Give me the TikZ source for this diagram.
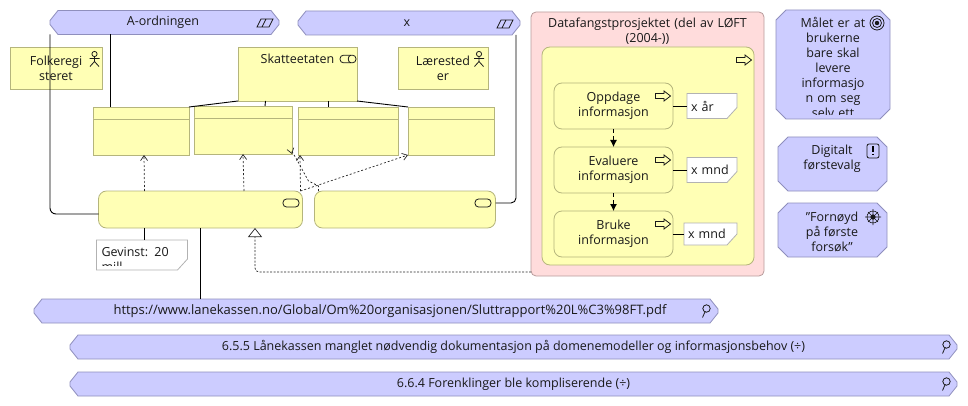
\documentclass[tikz,border=0pt]{standalone}
\usepackage{fontspec}
\setmainfont{Open Sans}
\usetikzlibrary{arrows.meta,positioning}
\newcommand{\cutbox}[3]{\draw [cutstyle] ([xshift=#2pt]#1.north west) -- ([xshift=-#2pt]#1.north east) -- ([yshift=-#3pt]#1.north east) -- ([yshift=#3pt]#1.south east) -- ([xshift=-#2pt]#1.south east) -- ([xshift=#2pt]#1.south west) -- ([yshift=#3pt]#1.south west) -- ([yshift=-#3pt]#1.north west) -- cycle;}
\newcommand{\memobox}[1]{\draw [memostyle] (#1.north west) -- (#1.north east) -- ([yshift=11pt]#1.south east) -- ([xshift=-10pt]#1.south east) -- (#1.south west) -- cycle;}

\begin{document}
\begin{tikzpicture}[
      x=1pt, y=-1pt,
      base/.style={outer sep=0pt, inner sep=2pt, align=center, line width=0.8pt, text=black!90, font=\fontsize{12.5}{15}\selectfont},
      bizbox/.style={base, rectangle, draw=yellowline, fill=yellowfill},
      tablebox/.style={bizbox, minimum height=48pt},
      roundbox/.style={bizbox, rounded corners=8pt},
      motivation/.style={base, rectangle},
      banner/.style={motivation, minimum height=24pt},
      memo/.style={base, rectangle},
      cutstyle/.style={line width=0.8pt, draw=blueline, fill=bluefill},
      memostyle/.style={line width=0.8pt, draw=black!30, fill=white},
      plain/.style={base, inner sep=0pt},
      memotext/.style={plain, align=left},
      link/.style={line width=0.9pt, draw=black},
      trigger/.style={-{Straight Barb[length=5pt,width=7pt]}, line width=0.7pt, draw=black!85, dash pattern=on 2pt off 2pt},
      flow/.style={-{Latex[length=7pt,width=7pt]}, line width=0.8pt, draw=black, dash pattern=on 4pt off 3pt},
      realize/.style={-{Triangle[open, length=9pt, width=14pt]}, line width=0.7pt, draw=black!85, dash pattern=on 2pt off 1.5pt},
      icon/.style={line width=0.8pt, draw=black!90},
      pics/actor/.style={code={
        \draw [icon] (0,-5) circle (2.6) (0,-2.4) -- (0,2.5) (-5,-0.5) -- (5,-0.5) (-4.5,7.5) -- (0,2.5) -- (4.5,7.5);}},
      pics/serve/.style={code={
        \draw [icon, rounded corners=3.5pt] (-8,-4) rectangle (8,4);}},
      pics/collab/.style={code={
        \draw [icon, rounded corners=3.5pt] (-8,-3.8) rectangle (8,3.8);
        \draw [icon] (3,-3.8) arc (-90:-270:2.8 and 3.8);}},
      pics/plateau/.style={code={
        \draw [icon] (-8,4) -- (-4,-4) -- (8,-4) -- (4,4) -- cycle (-3,4) -- (1,-4);}},
      pics/process/.style={code={
        \draw [icon] (-7.5,-2.5) -- (1,-2.5) -- (1,-5) -- (7.5,0) -- (1,5) -- (1,2.5) -- (-7.5,2.5) -- cycle;}},
      pics/lens/.style={code={
        \draw [icon] (1.5,-2.5) circle (3.7) (0,0.8) -- (-2.5,6.5);}},
      pics/target/.style={code={
        \draw [icon] (0,0) circle (7) (0,0) circle (4.5);
        \fill [black!90] (0,0) circle (2.2);}},
      pics/principle/.style={code={
        \draw [icon, rounded corners=2pt] (-6,-7) rectangle (6,7);
        \draw [line width=1.6pt] (0,-4.5) -- (0,1.2) (0,3) -- (0,4.5);}},
      pics/wheel/.style={code={
        \draw [icon, line width=0.6pt] (0,0) circle (6) (-8,0) -- (8,0) (0,-8) -- (0,8) (-5,-5) -- (5,5) (-5,5) -- (5,-5);
        \fill [black!90] (0,0) circle (2.6);}}
  ]
  \definecolor{yellowfill}{HTML}{FFFFB5}
  \definecolor{yellowline}{HTML}{B5B57C}
  \definecolor{bluefill}{HTML}{CCCCFF}
  \definecolor{blueline}{HTML}{8F8FBD}
  \definecolor{pinkfill}{HTML}{FFDCDC}
  \definecolor{pinkline}{HTML}{B89C9C}
  \useasboundingbox (0,0) rectangle (968,406);

  % Nodes
  \node (ordningen) [banner, minimum width=229pt] at (164.5,22.5) {};
  \cutbox{ordningen}{8}{10}
  \node (ordningenText) [plain] at (163,22.5) {A-ordningen};
  \node (xplateau) [banner, minimum width=222pt] at (409,23) {};
  \cutbox{xplateau}{8}{10}
  \node (xplateauText) [plain] at (407,23.5) {x};

  \node (folkereg) [bizbox, minimum width=92pt, minimum height=42pt] at (56,68) {Folkeregi\\steret};
  \node (skatt) [bizbox, minimum width=119pt, minimum height=54pt] at (297.5,74) {Skatteetaten\\~\\~};
  \node (laerested) [bizbox, minimum width=90pt, minimum height=42pt] at (443,68) {Lærested\\er};

  \node (tableA) [tablebox, minimum width=96pt] at (141,131) {};
  \node (tableB) [tablebox, minimum width=98pt, right=5pt of tableA, yshift=1pt] {};
  \node (tableC) [tablebox, minimum width=100pt, right=6pt of tableB, yshift=-1pt] {};
  \node (tableD) [tablebox, minimum width=86pt, right=10pt of tableC] {};

  \node (mainproc) [roundbox, minimum width=204pt, minimum height=37pt] at (200.5,209.5) {};
  \node (secondproc) [roundbox, minimum width=181pt, minimum height=37pt, right=12pt of mainproc] {};
  \node (gevinst) [memo, minimum width=91pt, minimum height=30pt] at (142,255) {};
  \memobox{gevinst}
  \begin{scope}
    \clip (96,240) rectangle (188,265.5);
    \node (gevinstText) [memotext, text width=85pt] at (144,259.5) {Gevinst: 20\\mill};
  \end{scope}

  \node (datafangst) [base, rectangle, draw=pinkline, fill=pinkfill, rounded corners=5pt, minimum width=233pt, minimum height=264pt] at (647.5,144) {};
  \node (datafangstText) [plain, text width=225pt] at (647.5,31.5) {Datafangstprosjektet (del av LØFT\\(2004-))};
  \node (fangstinner) [roundbox, minimum width=212pt, minimum height=218pt] at (648,156) {};

  \node (oppdage) [roundbox, minimum width=119pt, minimum height=46pt] at (613.5,106) {Oppdage\\informasjon};
  \node (evaluere) [roundbox, minimum width=119pt, minimum height=46pt, below=18pt of oppdage] {Evaluere\\informasjon};
  \node (bruke) [roundbox, minimum width=119pt, minimum height=46pt, below=18pt of evaluere] {Bruke\\informasjon};
  \node (noteA) [memo, minimum width=50pt, minimum height=25pt, right=14pt of oppdage] {};
  \node (noteB) [memo, minimum width=50pt, minimum height=25pt, right=14pt of evaluere] {};
  \node (noteC) [memo, minimum width=53pt, minimum height=22pt, right=11pt of bruke] {};
  \memobox{noteA}
  \memobox{noteB}
  \memobox{noteC}
  \node (noteAText) [memotext, text width=42pt] at (noteA) {x år};
  \node (noteBText) [memotext, text width=42pt] at (noteB) {x mnd};
  \node (noteCText) [memotext, text width=45pt] at (noteC) {x mnd};

  \node (maalet) [motivation, minimum width=114pt, minimum height=109pt] at (833,64.5) {};
  \cutbox{maalet}{10}{10}
  \begin{scope}
    \clip (776,10) rectangle (890,114.5);
    \node (maaletText) [plain, text width=100pt] at (833,67.7) {Målet er at\\brukerne\\bare skal\\levere\\informasjo\\n om seg\\selv ett};
  \end{scope}
  \node (digitalt) [motivation, minimum width=109pt, minimum height=54pt] at (832.5,164) {};
  \cutbox{digitalt}{10}{10}
  \node (digitaltText) [plain] at (832,165) {Digitalt\\førstevalg\\~};
  \node (fornoyd) [motivation, minimum width=109pt, minimum height=54pt, below=12pt of digitalt] {};
  \cutbox{fornoyd}{10}{10}
  \node (fornoydText) [plain] at (832,231.5) {\symbol{34}Fornøyd\\på første\\forsøk\symbol{34}};

  \node (urlbar) [banner, minimum width=684pt] at (376,311) {};
  \cutbox{urlbar}{8}{10}
  \node (urlbarText) [plain, font=\fontsize{13}{15}\selectfont] at (390,311) {https://www.lanekassen.no/Global/Om\%20organisasjonen/Sluttrapport\%20L\%C3\%98FT.pdf};
  \node (bar655) [banner, minimum width=887pt] at (513.5,347) {};
  \cutbox{bar655}{8}{10}
  \node (bar655Text) [plain] at (bar655) {6.5.5 Lånekassen manglet nødvendig dokumentasjon på domenemodeller og informasjonsbehov (÷)};
  \node (bar664) [banner, minimum width=887pt] at (513.5,384) {};
  \cutbox{bar664}{8}{10}
  \node (bar664Text) [plain] at (bar664) {6.6.4 Forenklinger ble kompliserende (÷)};

  % Icons
  \pic at (265,23) {plateau};
  \pic at (505,24) {plateau};
  \pic at (94.5,59) {actor};
  \pic at (348,59) {collab};
  \pic at (479,59) {actor};
  \pic at (291,203) {serve};
  \pic at (483,203) {serve};
  \pic at (744,60) {process};
  \pic at (663,96) {process};
  \pic at (663,160) {process};
  \pic at (663,224) {process};
  \pic at (877,23) {target};
  \pic at (873,151) {principle};
  \pic at (873,217) {wheel};
  \pic at (705,311) {lens};
  \pic at (945,347) {lens};
  \pic at (945,384) {lens};

  % Table headers
  \draw [bizbox] ([yshift=-12pt]tableA.north west) -- ([yshift=-12pt]tableA.north east);
  \draw [bizbox] ([yshift=-12pt]tableB.north west) -- ([yshift=-12pt]tableB.north east);
  \draw [bizbox] ([yshift=-12pt]tableC.north west) -- ([yshift=-12pt]tableC.north east);
  \draw [bizbox] ([yshift=-12pt]tableD.north west) -- ([yshift=-12pt]tableD.north east);

  % Arrows
  \draw [link] ([xshift=-54.5pt]ordningen.south) -- ([xshift=-31pt]tableA.north);
  \draw [link, rounded corners=6pt] (ordningen.west |- ordningen.south) |- ([yshift=-4.5pt]mainproc.west);
  \draw [link, rounded corners=5pt] ([yshift=6.5pt]secondproc.east) -| ([xshift=-4pt]xplateau.east |- xplateau.south);
  \draw [link] (skatt.south west) -- (tableA.north east);
  \draw [link] ([xshift=-32pt]skatt.south) -- ([xshift=22pt]tableB.north);
  \draw [link] ([xshift=30.5pt]skatt.south) -- ([xshift=-20pt]tableC.north);
  \draw [link] (skatt.south east) -- (tableD.north west);
  \draw [link] ([xshift=-56.5pt]mainproc.south) -- ([xshift=2pt]gevinst.north);
  \draw [link] (mainproc.south) -- (mainproc.south |- urlbar.north);
  \draw [link] (oppdage.east) -- (noteA.west);
  \draw [link] (evaluere.east) -- (noteB.west);
  \draw [link] (bruke.east) -- (noteC.west);

  \draw [flow] (oppdage) -- (evaluere);
  \draw [flow] (evaluere) -- (bruke);

  \draw [trigger] ([xshift=-56pt]mainproc.north) -- ([xshift=3pt]tableA.south);
  \draw [trigger] ([xshift=43.5pt]mainproc.north) -- (tableB.south);
  \draw [trigger] ([xshift=100pt]mainproc.north) -- ([xshift=-48pt]tableC.south);
  \draw [trigger] ([xshift=100pt]mainproc.north) -- (tableD.south west);
  \draw [trigger] ([xshift=-86.5pt]secondproc.north) -- ++(0,-5) -- ++(-10,-5) .. controls +(-3,-5) and +(-3,-10) .. (tableB.south east);
  \draw [realize, rounded corners=4pt] (datafangst.west |- 0,272) -| ([xshift=54.5pt]mainproc.south);
\end{tikzpicture}
\end{document}
